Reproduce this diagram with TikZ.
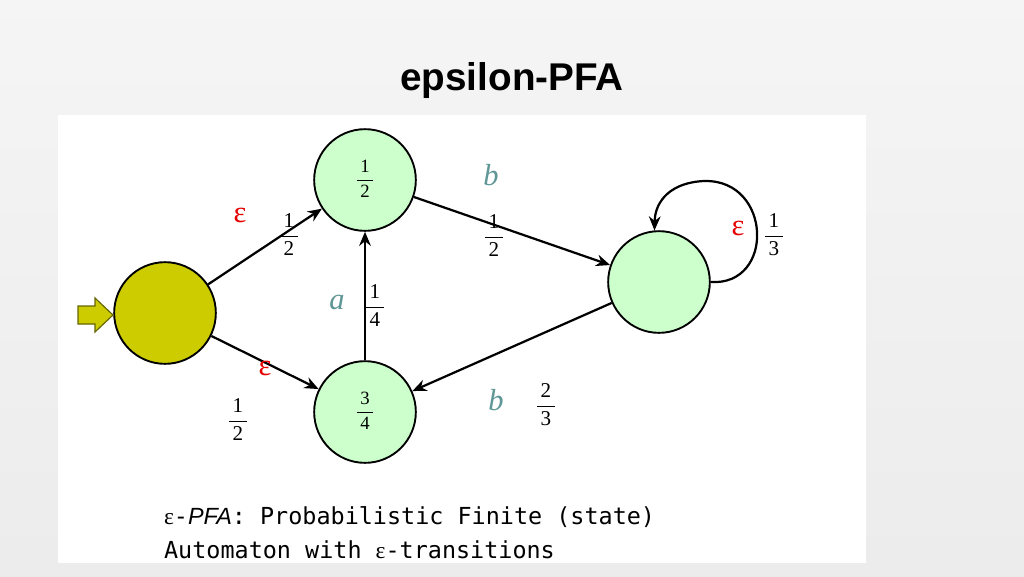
\documentclass[tikz,border=0pt]{standalone}
\usepackage{fontspec}
\setmainfont{Liberation Serif}
\setsansfont{Liberation Sans}
\setmonofont{DejaVu Sans Mono}
\usetikzlibrary{arrows.meta}
\definecolor{stategreen}{RGB}{204,255,204}
\definecolor{startolive}{RGB}{204,204,0}
\definecolor{symteal}{RGB}{95,150,150}
\definecolor{epsred}{RGB}{230,0,0}
\newcommand{\pfrac}[2]{\renewcommand{\arraystretch}{1.15}\begin{tabular}{@{\,}c@{\,}}#1\\\hline #2\end{tabular}}
\begin{document}
\begin{tikzpicture}
[
	x=0.03cm, y=-0.03cm,
	state/.style = {draw, circle, line width=1.6pt, minimum size=3.05cm, inner sep=0pt, fill=stategreen, font=\fontsize{16}{18}\selectfont},
	trans/.style = {draw, line width=1.9pt, -{Stealth[length=12pt,width=10pt]}},
	prob/.style = {font=\fontsize{18}{20}\selectfont},
	sym/.style = {text=symteal, font=\fontsize{26}{28}\selectfont\itshape},
	eps/.style = {text=epsred, font=\fontsize{26}{28}\selectfont},
]
\useasboundingbox (0,0) rectangle (1024,576);
\shade[top color=white!92!gray, bottom color=white!85!gray] (0,0) rectangle (1024,576);
\fill[white] (58,115) rectangle (866,563);

\node[font=\sffamily\bfseries\fontsize{33}{38}\selectfont] (title) at (512,80) {epsilon-PFA};

% states
\node[state, fill=startolive] (s0) at (165,313) {};
\node[state] (s1) at (365,180) {\pfrac{1}{2}};
\node[state] (s2) at (659,282) {};
\node[state] (s3) at (365,412) {\pfrac{3}{4}};

% input arrow
\coordinate (in) at (78,315);
\draw[draw=black!50!startolive, fill=startolive, line width=1pt]
  (in) ++(0,-9) -- ++(17,0) -- ++(0,-8) -- ++(18,17) -- ++(-18,17) -- ++(0,-8) -- ++(-17,0) -- cycle;

% transitions
\draw[trans] (s0) -- (s1);
\draw[trans] (s0) -- (s3);
\draw[trans] (s3) -- (s1);
\draw[trans] (s1) -- (s2);
\draw[trans] (s2) -- (s3);
\draw[trans] (s2.east) .. controls (775,286) and (772,180) .. (705,181)
  .. controls (672,182) and (655,200) .. (s2.95);

% labels
\node[eps] (e1) at (240,215) {ε};
\node[prob] (p1) at (289,236) {\pfrac{1}{2}};
\node[eps] (e2) at (265,368) {ε};
\node[prob] (p2) at (238,421) {\pfrac{1}{2}};
\node[sym] (la) at (337,302) {a};
\node[prob] (p3) at (375,307) {\pfrac{1}{4}};
\node[sym] (lb1) at (491,175) {b};
\node[prob] (p4) at (494,237) {\pfrac{1}{2}};
\node[eps] (e3) at (738,228) {ε};
\node[prob] (p5) at (774,236) {\pfrac{1}{3}};
\node[sym] (lb2) at (496,400) {b};
\node[prob] (p6) at (546,406) {\pfrac{2}{3}};

% caption
\node[anchor=west, font=\ttfamily\fontsize{20}{24}\selectfont] (cap1) at (160,517)
  {{\rmfamily ε}-{\sffamily\itshape PFA}: Probabilistic Finite (state)};
\node[anchor=west, font=\ttfamily\fontsize{20}{24}\selectfont] (cap2) at (160,550)
  {Automaton with {\rmfamily ε}-transitions};
\end{tikzpicture}
\end{document}
